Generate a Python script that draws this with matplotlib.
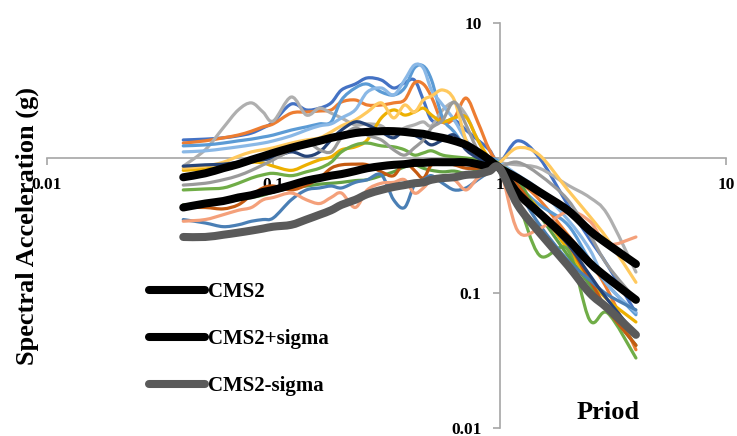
import matplotlib
matplotlib.use("Agg")
import matplotlib.pyplot as plt
import numpy as np
from matplotlib.lines import Line2D
from matplotlib.path import Path
from matplotlib.patches import PathPatch

# Periods (s)
periods = [0.04, 0.05, 0.06, 0.07, 0.08, 0.09, 0.1, 0.12, 0.14, 0.16, 0.18, 0.2,
           0.23, 0.26, 0.3, 0.34, 0.38, 0.42, 0.46, 0.5, 0.56, 0.63, 0.71, 0.8,
           0.9, 1.0, 1.2, 1.5, 2.0, 2.5, 3.0, 4.0]

# Ground-motion records, spectral acceleration (g)
rec_a = [1.36, 1.38, 1.41, 1.46, 1.53, 1.67, 1.85, 2.51, 2.27, 2.34, 2.56, 3.19, 3.53, 3.92, 3.78, 3.30,
         3.60, 3.78, 2.69, 1.91, 1.85, 1.91, 1.61, 1.36, 1.15, 0.93, 1.34, 1.00, 0.45, 0.25, 0.16, 0.071]
rec_b = [1.29, 1.34, 1.41, 1.48, 1.58, 1.70, 1.79, 2.15, 2.19, 2.23, 2.27, 2.60, 2.69, 2.47, 2.47, 2.56,
         2.69, 3.60, 3.53, 2.83, 1.85, 1.98, 2.78, 1.85, 1.15, 0.89, 0.69, 0.49, 0.27, 0.17, 0.105, 0.038]
rec_c = [0.87, 1.15, 1.67, 2.27, 2.56, 2.19, 1.88, 2.83, 2.08, 2.34, 2.15, 1.98, 1.76, 1.79, 1.73, 1.48,
         1.67, 1.76, 1.85, 1.73, 2.27, 2.56, 2.08, 1.36, 0.97, 0.92, 0.89, 0.84, 0.63, 0.51, 0.38, 0.143]
rec_d = [1.23, 1.25, 1.29, 1.34, 1.38, 1.43, 1.48, 1.61, 1.70, 1.79, 1.85, 2.69, 3.30, 3.53, 3.08, 2.93,
         3.30, 4.64, 4.80, 3.78, 1.98, 1.56, 1.19, 1.05, 1.00, 0.93, 0.63, 0.45, 0.32, 0.175, 0.115, 0.069]
rec_e = [1.11, 1.13, 1.17, 1.21, 1.25, 1.29, 1.34, 1.46, 1.61, 1.73, 1.79, 1.98, 2.27, 3.08, 3.30, 2.93,
         3.78, 4.88, 4.64, 3.19, 2.47, 1.91, 1.36, 1.11, 0.97, 0.92, 0.75, 0.58, 0.35, 0.21, 0.115, 0.072]
rec_f = [0.81, 0.83, 0.86, 0.89, 0.93, 0.92, 0.87, 0.81, 0.89, 0.97, 1.02, 1.15, 1.21, 1.36, 1.98, 2.27,
         2.08, 2.19, 2.34, 2.08, 1.85, 1.98, 2.01, 1.36, 1.00, 0.89, 0.63, 0.41, 0.21, 0.125, 0.089, 0.061]
rec_g = [0.84, 0.87, 0.93, 1.03, 1.11, 1.15, 1.19, 1.29, 1.36, 1.41, 1.56, 1.73, 1.91, 2.19, 2.56, 1.98,
         2.47, 2.19, 2.69, 2.88, 3.19, 2.69, 1.36, 1.00, 0.89, 0.93, 1.19, 1.05, 0.58, 0.37, 0.25, 0.12]
rec_h = [0.58, 0.59, 0.60, 0.65, 0.71, 0.75, 0.77, 0.74, 0.79, 0.84, 0.93, 1.11, 1.25, 1.29, 1.23, 1.21,
         1.15, 1.05, 1.09, 1.13, 1.05, 1.02, 1.00, 0.97, 0.93, 0.89, 0.49, 0.19, 0.21, 0.063, 0.071, 0.033]
rec_i = [0.45, 0.46, 0.47, 0.49, 0.51, 0.53, 0.56, 0.60, 0.62, 0.64, 0.65, 0.66, 0.68, 0.69, 0.74, 0.79,
         0.86, 0.89, 0.84, 0.81, 0.79, 0.80, 0.77, 0.81, 0.87, 0.89, 0.69, 0.38, 0.19, 0.115, 0.075, 0.041]
rec_j = [0.43, 0.43, 0.42, 0.45, 0.53, 0.60, 0.62, 0.58, 0.63, 0.71, 0.84, 0.89, 0.90, 0.89, 0.79, 0.74,
         0.93, 0.81, 0.71, 0.89, 0.93, 0.89, 0.84, 0.84, 0.87, 0.86, 0.63, 0.38, 0.23, 0.125, 0.075, 0.041]
rec_k = [0.35, 0.33, 0.31, 0.32, 0.34, 0.35, 0.36, 0.49, 0.58, 0.60, 0.62, 0.60, 0.66, 0.69, 0.75, 0.49,
         0.43, 0.63, 0.69, 0.74, 0.65, 0.58, 0.60, 0.69, 0.79, 0.89, 0.58, 0.32, 0.175, 0.125, 0.097, 0.075]
rec_l = [0.34, 0.35, 0.38, 0.41, 0.43, 0.49, 0.51, 0.55, 0.49, 0.46, 0.51, 0.55, 0.43, 0.58, 0.65, 0.66,
         0.69, 0.55, 0.60, 0.69, 0.71, 0.69, 0.58, 0.71, 0.79, 0.86, 0.29, 0.30, 0.40, 0.34, 0.23, 0.26]
rec_m = [0.87, 0.89, 0.90, 0.93, 0.95, 0.97, 1.00, 1.11, 1.03, 1.11, 1.36, 1.61, 1.85, 1.76, 1.56, 1.41,
         1.61, 1.48, 1.36, 1.25, 1.36, 1.48, 1.15, 1.00, 0.93, 0.89, 0.58, 0.38, 0.23, 0.136, 0.089, 0.049]
rec_n = [0.63, 0.65, 0.69, 0.74, 0.81, 0.89, 0.97, 1.15, 1.31, 1.15, 1.11, 1.41, 1.67, 1.48, 1.36, 1.15,
         1.05, 1.19, 1.36, 1.67, 1.91, 2.60, 1.76, 1.15, 0.97, 0.87, 0.93, 0.75, 0.49, 0.27, 0.16, 0.089]

records = [rec_a, rec_b, rec_c, rec_d, rec_e, rec_f, rec_g, rec_h, rec_i, rec_j, rec_k, rec_l, rec_m, rec_n]
record_colors = ['#4472C4', '#ED7D31', '#AFAFAF', '#5B9BD5', '#8AB8E6', '#EDB000', '#FFC95E',
                 '#70AD47', '#62A043', '#C55A11', '#4A7FB5', '#F4A07A', '#264478', '#9A9A9A']

# Conditional mean spectra (g)
cms2 = [0.43, 0.46, 0.48, 0.51, 0.53, 0.56, 0.58, 0.63, 0.68, 0.71, 0.74, 0.76, 0.80, 0.84, 0.87, 0.89,
        0.90, 0.92, 0.92, 0.93, 0.93, 0.93, 0.93, 0.90, 0.86, 0.84, 0.55, 0.39, 0.25, 0.167, 0.129, 0.089]
cms2_plus = [0.72, 0.77, 0.84, 0.90, 0.97, 1.03, 1.09, 1.19, 1.27, 1.34, 1.41, 1.46, 1.53, 1.56, 1.58, 1.58,
             1.56, 1.53, 1.51, 1.46, 1.41, 1.34, 1.25, 1.11, 0.97, 0.84, 0.71, 0.56, 0.41, 0.29, 0.23, 0.164]
cms2_minus = [0.26, 0.26, 0.27, 0.28, 0.29, 0.30, 0.31, 0.32, 0.35, 0.38, 0.41, 0.45, 0.49, 0.54, 0.58, 0.61,
              0.63, 0.65, 0.66, 0.69, 0.71, 0.72, 0.75, 0.76, 0.80, 0.84, 0.45, 0.28, 0.16, 0.10, 0.077, 0.049]

cms_labels = ['CMS2', 'CMS2+sigma', 'CMS2-sigma']
cms_colors = ['#000000', '#000000', '#5A5A5A']

x_ticks = [0.01, 0.1, 1, 10]
x_tick_labels = ['0.01', '0.1', '1', '10']
y_ticks = [0.01, 0.1, 1, 10]
y_tick_labels = ['0.01', '0.1', '1', '10']

plt.rcParams['font.family'] = ['Liberation Serif', 'DejaVu Serif']
plt.rcParams['font.weight'] = 'bold'


def smooth_path(xs, ys):
    """Excel-like smoothed line: cubic Bezier segments (Catmull-Rom) built in log-log space."""
    lx = np.log10(np.asarray(xs, float))
    ly = np.log10(np.asarray(ys, float))
    pts = np.column_stack([lx, ly])
    n = len(pts)
    verts = [pts[0]]
    codes = [Path.MOVETO]
    for i in range(n - 1):
        p0 = pts[i - 1] if i > 0 else pts[i]
        p1 = pts[i]
        p2 = pts[i + 1]
        p3 = pts[i + 2] if i + 2 < n else pts[i + 1]
        c1 = p1 + (p2 - p0) / 6.0
        c2 = p2 - (p3 - p1) / 6.0
        verts += [c1, c2, p2]
        codes += [Path.CURVE4, Path.CURVE4, Path.CURVE4]
    verts = 10 ** np.asarray(verts)
    return Path(verts, codes)


fig = plt.figure(figsize=(7.37, 4.36), dpi=100)
ax = fig.add_axes([47 / 737, 1 - 428 / 436, 679 / 737, 405 / 436])
ax.set_xscale('log')
ax.set_yscale('log')
ax.set_xlim(0.01, 10)
ax.set_ylim(0.01, 10)

for vals, col in zip(records, record_colors):
    ax.add_patch(PathPatch(smooth_path(periods, vals), facecolor='none', edgecolor=col,
                           lw=2.3, capstyle='round', joinstyle='round', zorder=3))

handles = []
for vals, lab, col in zip([cms2, cms2_plus, cms2_minus], cms_labels, cms_colors):
    ax.add_patch(PathPatch(smooth_path(periods, vals), facecolor='none', edgecolor=col,
                           lw=5.8, capstyle='round', joinstyle='round', zorder=4))
    handles.append(Line2D([], [], color=col, lw=5.8, solid_capstyle='round', label=lab))

# axes crossing at 1
for s in ['top', 'right']:
    ax.spines[s].set_visible(False)
ax.spines['bottom'].set_position(('data', 1))
ax.spines['left'].set_position(('data', 1))
for s in ['bottom', 'left']:
    ax.spines[s].set_color('#A6A6A6')
    ax.spines[s].set_linewidth(1.2)
    ax.spines[s].set_zorder(1)

ax.set_xticks(x_ticks)
ax.set_xticklabels(x_tick_labels)
ax.set_yticks(y_ticks)
ax.set_yticklabels(y_tick_labels)
ax.minorticks_off()
ax.tick_params(axis='both', which='major', direction='out', length=5, width=1.2,
               color='#A6A6A6', labelsize=12.5)
ax.tick_params(axis='x', pad=9)
ax.tick_params(axis='y', pad=8)
for lbl in ax.get_xticklabels() + ax.get_yticklabels():
    lbl.set_fontweight('bold')

fig.text(27 / 737, 1 - 226 / 436, 'Spectral Acceleration (g)', rotation=90,
         ha='center', va='center', fontsize=19, fontweight='bold')
fig.text(608 / 737, 1 - 412 / 436, 'Priod', ha='center', va='center',
         fontsize=19, fontweight='bold')

leg = ax.legend(handles=handles, loc='upper left', bbox_to_anchor=(0.138, 0.381),
                frameon=False, fontsize=15, handlelength=2.7, handletextpad=0.15,
                labelspacing=1.3, borderaxespad=0)
for t in leg.get_texts():
    t.set_fontweight('bold')

fig.savefig('out.png', dpi=100)
